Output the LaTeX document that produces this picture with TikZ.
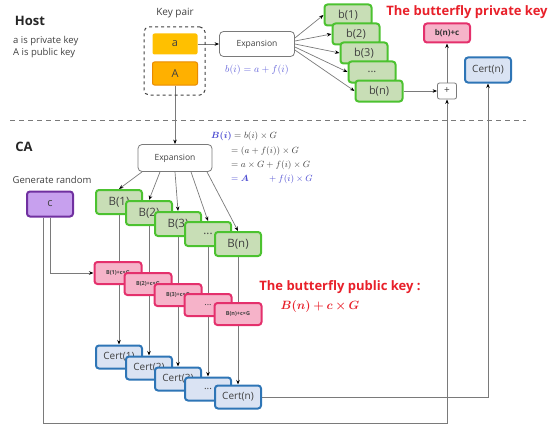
\documentclass[tikz,border=0pt]{standalone}
\usepackage{fontspec}
\setmainfont{Open Sans}
\usepackage{amsmath,bm}
\usetikzlibrary{arrows.meta,calc}
\definecolor{yel}{HTML}{FFC000}
\definecolor{yelA}{HTML}{FFB000}
\definecolor{yelAb}{HTML}{E88A00}
\definecolor{gfill}{HTML}{C8DEB6}
\definecolor{gborder}{HTML}{4CC230}
\definecolor{pfill}{HTML}{F6B3C9}
\definecolor{pborder}{HTML}{E4306C}
\definecolor{cfill}{HTML}{DAE3F3}
\definecolor{cborder}{HTML}{2E75B6}
\definecolor{vfill}{HTML}{C7A0EE}
\definecolor{vborder}{HTML}{7030A0}
\definecolor{redt}{HTML}{E8202A}
\definecolor{bluet}{HTML}{4848D0}
\definecolor{bluel}{HTML}{6464DA}
\definecolor{txt}{HTML}{404040}
\definecolor{lgray}{HTML}{7A7A7A}
\pgfdeclarelayer{bg}
\pgfsetlayers{bg,main}
\tikzset{
  box/.style={draw, rounded corners=3pt, line width=2pt, inner sep=0pt, align=center, text=txt},
  gbox/.style={box, draw=gborder, fill=gfill, minimum width=47pt, minimum height=21pt, font=\fontsize{11}{12}\selectfont},
  Gbox/.style={box, draw=gborder, fill=gfill, minimum width=46pt, minimum height=24pt, font=\fontsize{11.5}{12}\selectfont},
  pbox/.style={box, draw=pborder, fill=pfill, minimum width=47pt, minimum height=22pt, font=\fontsize{5.5}{6}\selectfont\bfseries},
  cbox/.style={box, draw=cborder, fill=cfill, minimum width=46pt, minimum height=23pt, font=\fontsize{10}{11}\selectfont},
  expbox/.style={draw=lgray, line width=0.8pt, rounded corners=4pt, fill=white, inner sep=0pt, text=txt, font=\fontsize{8.5}{9}\selectfont},
  conn/.style={draw=lgray, line width=0.7pt, -{Stealth[length=4.5pt,width=3.5pt,color=black]}},
  lbl/.style={text=txt, inner sep=0pt},
}
\begin{document}
\begin{tikzpicture}[x=1pt,y=-1pt]
\useasboundingbox (0,0) rectangle (554,428);
% Host
\node[lbl, font=\fontsize{13}{14}\selectfont\bfseries, text=black!85] (host) at (30,21) {Host};
\node[lbl, anchor=north west, align=left, font=\fontsize{9.5}{12}\selectfont] (desc) at (13,36) {a is private key\\A is public key};
\node[lbl, font=\fontsize{10}{11}\selectfont] (kplabel) at (175,13) {Key pair};
\node[draw=txt, dashed, line width=1pt, rounded corners=5pt, minimum width=61pt, minimum height=68pt, inner sep=0pt] (kp) at (174.5,61) {};
\node[fill=yel, rounded corners=2pt, minimum width=45pt, minimum height=21pt, inner sep=0pt, text=txt, font=\fontsize{11}{12}\selectfont] (a) at (175,44) {a};
\node[fill=yelA, draw=yelAb, line width=1pt, rounded corners=2pt, minimum width=45pt, minimum height=23pt, inner sep=0pt, text=txt, font=\fontsize{11}{12}\selectfont] (A) at (175,73.5) {A};
\node[expbox, minimum width=75pt, minimum height=25pt] (e1) at (257,44) {Expansion};
\node[inner sep=0pt, text=bluel, font=\fontsize{10}{11}\selectfont] (f1) at (257,70) {$b(i) = a + f(i)$};
% b boxes
\node[gbox] (b1) at (348,15) {b(1)};
\node[gbox] (b2) at (356,34) {b(2)};
\node[gbox] (b3) at (364,53) {b(3)};
\node[gbox] (b4) at (372,72) {...};
\node[gbox] (bn) at (379,91) {b(n)};
\node[inner sep=0pt, text=redt, font=\fontsize{13}{14}\selectfont\bfseries] (t1) at (467,12) {The butterfly private key};
\node[box, draw=pborder, fill=pfill, minimum width=46pt, minimum height=19pt, font=\fontsize{8}{9}\selectfont\bfseries, text=black!80] (bnc) at (447,33) {b(n)+c};
\node[cbox, minimum height=25pt] (ct) at (488,70) {Cert(n)};
\node[draw=lgray, line width=0.8pt, rounded corners=2pt, fill=white, minimum width=19pt, minimum height=16pt, inner sep=0pt, text=txt, font=\fontsize{10}{10}\selectfont] (plus) at (447,91) {+};
% separator
\coordinate (sl) at (10,120);
\coordinate (sr) at (526,120);
\draw[lgray, line width=1pt, dash pattern=on 5pt off 4pt] (sl) -- (sr);
% CA
\node[lbl, font=\fontsize{13}{14}\selectfont\bfseries, text=black!85] (ca) at (24,147) {CA};
\node[expbox, minimum width=74pt, minimum height=27pt] (e2) at (175,158) {Expansion};
\node[inner sep=0pt, anchor=west, font=\fontsize{9}{10}\selectfont] (g1) at (211,136) {$\textcolor{bluet}{\bm{B(i)}}\textcolor{txt}{{}= b(i)\times G}$};
\node[inner sep=0pt, anchor=west, text=txt, font=\fontsize{9}{10}\selectfont] (g2) at (231,151) {$= (a + f(i))\times G$};
\node[inner sep=0pt, anchor=west, text=txt, font=\fontsize{9}{10}\selectfont] (g3) at (231,165) {$= a\times G + f(i)\times G$};
\node[inner sep=0pt, anchor=west, text=bluet, font=\fontsize{9}{10}\selectfont] (g4) at (231,179) {$= \bm{A}\qquad + f(i)\times G$};
\node[lbl, font=\fontsize{9.5}{10}\selectfont] (gen) at (52,180) {Generate random};
\node[box, draw=vborder, fill=vfill, minimum width=46pt, minimum height=25pt, font=\fontsize{11}{12}\selectfont] (c) at (50,204) {c};
% B boxes
\node[Gbox] (B1) at (119,202) {B(1)};
\node[Gbox] (B2) at (149,213) {B(2)};
\node[Gbox] (B3) at (178,224) {B(3)};
\node[Gbox] (B4) at (208,234) {...};
\node[Gbox] (Bn) at (238,244) {B(n)};
% pink boxes
\node[pbox] (P1) at (118,273) {B(1)+c×G};
\node[pbox] (P2) at (148,284) {B(2)+c×G};
\node[pbox] (P3) at (178,295) {B(3)+c×G};
\node[pbox, font=\fontsize{9}{10}\selectfont] (P4) at (208,305) {...};
\node[pbox] (Pn) at (238,314) {B(n)+c×G};
% Cert boxes
\node[cbox] (C1) at (119,357) {Cert(1)};
\node[cbox] (C2) at (149,368) {Cert(2)};
\node[cbox] (C3) at (178,379) {Cert(3)};
\node[cbox] (C4) at (208,389) {...};
\node[cbox] (Cn) at (238,397) {Cert(n)};
% public key text
\node[inner sep=0pt, text=redt, font=\fontsize{13}{14}\selectfont\bfseries] (t2) at (340,287) {The butterfly public key :};
\node[inner sep=0pt, text=redt, font=\fontsize{12}{13}\selectfont] (f2) at (320,306) {$\bm{B(n) + c\times G}$};
\coordinate (low) at (447,423);
% connectors
\begin{pgfonlayer}{bg}
\draw[conn] (a) -- (e1);
\draw[conn] ([yshift=6pt]e1.east) -- (b1.west);
\draw[conn] ([yshift=3pt]e1.east) -- (b2.west);
\draw[conn] (e1.east) -- (b3.west);
\draw[conn] ([yshift=-3pt]e1.east) -- (b4.west);
\draw[conn] ([yshift=-6pt]e1.east) -- (bn.west);
\draw[conn] (bn) -- (plus);
\draw[conn] (plus) -- (bnc);
\draw[conn] (A.south) -- (e2.north);
\draw[conn] ([xshift=-33pt]e2.south) -- (B1.north);
\draw[conn] ([xshift=-15pt]e2.south) -- (B2.north);
\draw[conn] ([xshift=0pt]e2.south) -- (B3.north);
\draw[conn] ([xshift=16pt]e2.south) -- (B4.north);
\draw[conn] ([xshift=32pt]e2.south) -- (Bn.north);
\draw[conn] (B1.south) -- (B1.south |- C1.north);
\draw[conn] (B2.south) -- (B2.south |- C2.north);
\draw[conn] (B3.south) -- (B3.south |- C3.north);
\draw[conn] (B4.south) -- (B4.south |- C4.north);
\draw[conn] (Bn.south) -- (Bn.south |- Cn.north);
\draw[conn] (c.south) |- (P1.west);
\draw[conn] ([xshift=-7pt]c.south) |- (low) -- (plus.south);
\draw[conn] (Cn.east) -| (ct.south);
\end{pgfonlayer}
\end{tikzpicture}
\end{document}
